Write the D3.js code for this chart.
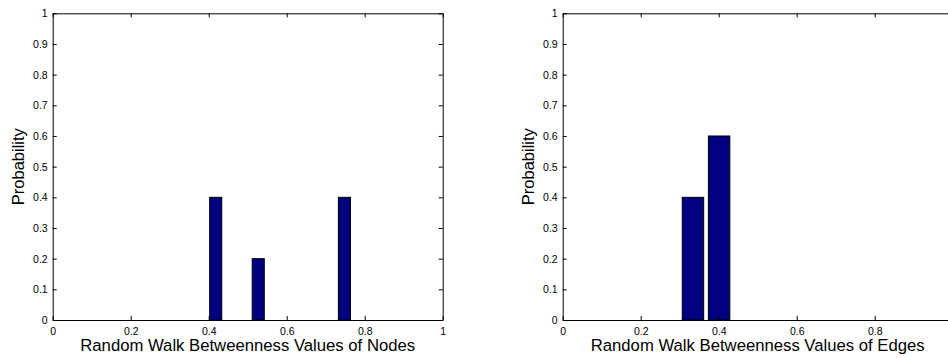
<!DOCTYPE html>
<html>
<head>
<meta charset="utf-8">
<script src="https://cdn.jsdelivr.net/npm/d3@7"></script>
<style>
  body { margin: 0; background: #fff; }
  svg { display: block; font-family: Arial, "Liberation Sans", sans-serif; }
  .tick text { font-size: 10.5px; fill: #000; }
</style>
</head>
<body>
<svg id="chart" width="948" height="358"></svg>
<script>
// data
var nodeBins = [0.418, 0.527, 0.748];
var nodeProb = [0.4, 0.2, 0.4];
var edgeBins = [0.334, 0.401];
var edgeProb = [0.4, 0.6];
var xTicks = [0, 0.2, 0.4, 0.6, 0.8, 1];
var yTicks = [0, 0.1, 0.2, 0.3, 0.4, 0.5, 0.6, 0.7, 0.8, 0.9, 1];

var svg = d3.select("#chart");
var svgWidth = 948;

function make_panel(left, bins, probs, barW, xlabel){
   var top = 13.3, bottom = 320, w = 390;
   var xScale = d3.scaleLinear().domain([0,1]).range([left, left + w]);
   var yScale = d3.scaleLinear().domain([0,1]).range([bottom, top]);
   var g = svg.append("g");
   var fmt = d3.format("~g");
   // labels that fall off the page are not drawn (figure is cropped on the right)
   var xfmt = function(d){ return xScale(d) + 4 > svgWidth ? "" : fmt(d) };

   // bars
   g.selectAll("rect.bar")
      .data(bins)
      .enter()
      .append("rect")
      .attr("class","bar")
      .attr("x", function(d){return xScale(d - barW/2)})
      .attr("width", function(d){return xScale(d + barW/2) - xScale(d - barW/2)})
      .attr("y", function(d,i){return yScale(probs[i])})
      .attr("height", function(d,i){return yScale(0) - yScale(probs[i])})
      .attr("fill","#000080")
      .attr("stroke","#000")
      .attr("stroke-width",1);

   // axes, ticks pointing in like matlab
   var xAxis = d3.axisBottom(xScale).tickValues(xTicks).tickSizeInner(-4).tickSizeOuter(0).tickPadding(8).tickFormat(xfmt);
   var xTop = d3.axisTop(xScale).tickValues(xTicks).tickSizeInner(-4).tickSizeOuter(0).tickFormat("");
   var yAxis = d3.axisLeft(yScale).tickValues(yTicks).tickSizeInner(-4).tickSizeOuter(0).tickPadding(5).tickFormat(fmt);
   var yRight = d3.axisRight(yScale).tickValues(yTicks).tickSizeInner(-4).tickSizeOuter(0).tickFormat("");

   g.append("g").attr("transform","translate(0," + bottom + ")").call(xAxis);
   g.append("g").attr("transform","translate(0," + top + ")").call(xTop);
   g.append("g").attr("transform","translate(" + left + ",0)").call(yAxis);
   g.append("g").attr("transform","translate(" + (left + w) + ",0)").call(yRight);
   g.selectAll(".domain").attr("stroke","#000");
   g.selectAll(".tick line").attr("stroke","#000");

   // labels
   g.append("text")
      .attr("x", left + w/2)
      .attr("y", 351)
      .attr("text-anchor","middle")
      .attr("font-size","16.7px")
      .text(xlabel);
   g.append("text")
      .attr("transform","translate(" + (left - 29) + "," + ((top+bottom)/2) + ") rotate(-90)")
      .attr("text-anchor","middle")
      .attr("font-size","16.5px")
      .text("Probability");
}

make_panel(52.7, nodeBins, nodeProb, 0.031, "Random Walk Betweenness Values of Nodes");
make_panel(562.7, edgeBins, edgeProb, 0.055, "Random Walk Betweenness Values of Edges");
</script>
</body>
</html>
